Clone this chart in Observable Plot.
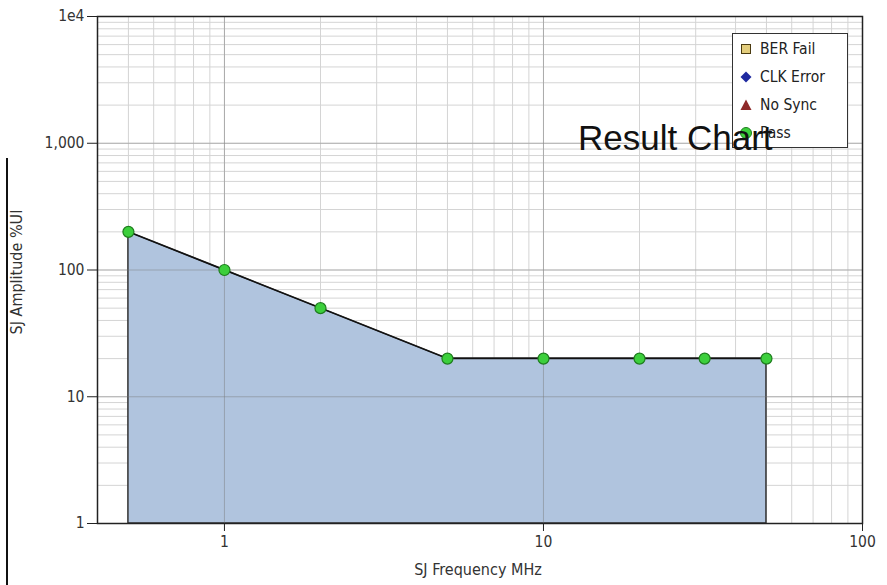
<!DOCTYPE html>
<html><head><meta charset="utf-8">
<script src="https://cdn.jsdelivr.net/npm/d3@7"></script>
<script src="https://cdn.jsdelivr.net/npm/@observablehq/plot@0.6"></script>
<style>
body{margin:0;background:#fff;}
#wrap{position:relative;width:887px;height:585px;overflow:hidden;background:#fff;}
#sideline{position:absolute;left:6px;top:158px;width:2px;height:427px;background:#111;}
#legend{position:absolute;left:732px;top:33px;width:116px;height:115px;border:1px solid #333;background:#fff;
  font-family:"DejaVu Sans Condensed","DejaVu Sans",sans-serif;font-stretch:condensed;font-size:15.5px;color:#222;box-sizing:border-box;padding-top:1px;}
.item{display:flex;align-items:center;height:28px;}
.item svg{margin-left:6px;margin-right:7px;}
#title{position:absolute;left:578px;top:120px;font-family:"Liberation Sans",Arial,sans-serif;font-size:35px;line-height:35px;color:#111;white-space:nowrap;}
.axlabel{position:absolute;font-family:"DejaVu Sans Condensed","DejaVu Sans",sans-serif;font-stretch:condensed;font-size:16px;color:#333;white-space:nowrap;line-height:16px;}
#xlabel{left:478px;top:562px;transform:translateX(-50%);}
#ylabel{left:17px;top:272px;transform:translate(-50%,-50%) rotate(-90deg);}
</style></head>
<body>
<div id="wrap"><div id="chart"></div><div id="sideline"></div><div id="legend"></div><div id="title"></div>
<div id="xlabel" class="axlabel"></div><div id="ylabel" class="axlabel"></div></div>
<script>
const freq = [0.5, 1, 2, 5, 10, 20, 32, 50];
const amp = [200, 100, 50, 20, 20, 20, 20, 20];
const xTicks = [1, 10, 100];
const xTickLabels = ["1", "10", "100"];
const yTicks = [1, 10, 100, 1000, 10000];
const yTickLabels = ["1", "10", "100", "1,000", "1e4"];
const legendLabels = ["BER Fail", "CLK Error", "No Sync", "Pass"];
const legendColors = ["#e3cd7c", "#1f2aa0", "#8e2a2a", "#3ccf3c"];
const legendShapes = ["square", "diamond", "triangle", "circle"];
const titleText = "Result Chart";
const xLabel = "SJ Frequency MHz";
const yLabel = "SJ Amplitude %UI";

const data = freq.map((f, i) => ({f, a: amp[i]}));
const font = '"DejaVu Sans Condensed","DejaVu Sans",sans-serif';

const chart = Plot.plot({
  width: 887, height: 585,
  marginLeft: 97, marginRight: 25, marginTop: 16, marginBottom: 62,
  style: {fontFamily: font, fontSize: "15.5px", fontStretch: "condensed", color: "#333", background: "#fff"},
  x: {type: "log", domain: [0.4, 100]},
  y: {type: "log", domain: [1, 10000]},
  marks: [
    Plot.gridX({stroke: "#d4d4d4", strokeOpacity: 1}),
    Plot.gridY({stroke: "#d4d4d4", strokeOpacity: 1}),
    Plot.areaY(data, {x: "f", y1: 1, y2: "a", fill: "#b0c4de", stroke: "#333", strokeWidth: 1.5}),
    Plot.gridX({ticks: xTicks, stroke: "#777", strokeOpacity: 0.45}),
    Plot.gridY({ticks: yTicks, stroke: "#777", strokeOpacity: 0.45}),
    Plot.line(data, {x: "f", y: "a", stroke: "#111", strokeWidth: 1.5}),
    Plot.dot(data, {x: "f", y: "a", r: 5.5, fill: "#3ccf3c", stroke: "#1e7d1e", strokeWidth: 1.2}),
    Plot.axisX({ticks: xTicks, tickFormat: d => xTickLabels[xTicks.indexOf(d)], tickSize: 8, tickPadding: 4,
      stroke: "#222", label: null}),
    Plot.axisY({ticks: yTicks, tickFormat: d => yTickLabels[yTicks.indexOf(d)], tickSize: 10, tickPadding: 3,
      stroke: "#222", label: null}),
    Plot.frame({stroke: "#222", strokeWidth: 1.5})
  ]
});
document.getElementById("chart").append(chart);

function shapeSvg(shape, color) {
  const s = 14, c = 7;
  let inner;
  if (shape === "square") inner = `<rect x="2.5" y="2.5" width="9" height="9" fill="${color}" stroke="#4a3a10" stroke-width="1"/>`;
  else if (shape === "diamond") inner = `<polygon points="${c},1.5 12.5,${c} ${c},12.5 1.5,${c}" fill="${color}"/>`;
  else if (shape === "triangle") inner = `<polygon points="${c},1.5 12.5,12 1.5,12" fill="${color}"/>`;
  else inner = `<circle cx="${c}" cy="${c}" r="5.5" fill="${color}" stroke="#1e7d1e" stroke-width="1"/>`;
  return `<svg width="${s}" height="${s}" viewBox="0 0 ${s} ${s}">${inner}</svg>`;
}
const legend = document.getElementById("legend");
legendLabels.forEach((lab, i) => {
  const d = document.createElement("div");
  d.className = "item";
  d.innerHTML = shapeSvg(legendShapes[i], legendColors[i]) + `<span>${lab}</span>`;
  legend.append(d);
});
document.getElementById("title").textContent = titleText;
document.getElementById("xlabel").textContent = xLabel;
document.getElementById("ylabel").textContent = yLabel;
</script>
</body></html>
